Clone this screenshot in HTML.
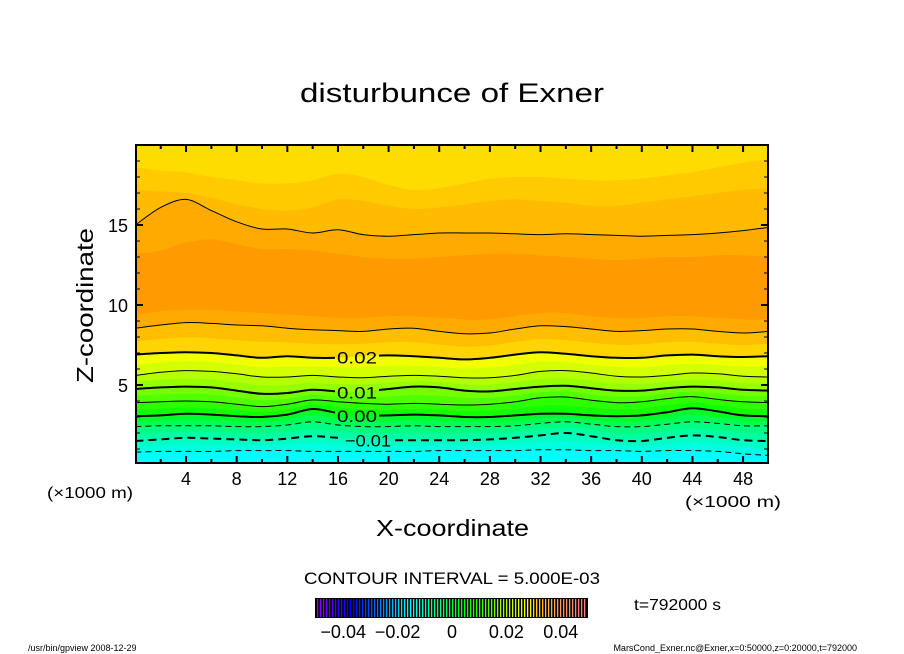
<!DOCTYPE html>
<html><head><meta charset="utf-8"><style>
html,body{margin:0;padding:0;background:#fff;}
svg{display:block;font-family:"Liberation Sans",sans-serif;}
</style></head><body>
<svg id="chart" width="904" height="654" viewBox="0 0 904 654">
<defs>
<clipPath id="plotclip"><rect x="136" y="145" width="632" height="318"/></clipPath>
<mask id="labelmask" maskUnits="userSpaceOnUse" x="0" y="0" width="904" height="654">
<rect x="0" y="0" width="904" height="654" fill="#fff"/>
<g id="maskholes"></g>
</mask>
</defs>
<text x="300" y="102" font-size="27" textLength="304" lengthAdjust="spacingAndGlyphs">disturbunce of Exner</text>
<g id="fills" clip-path="url(#plotclip)"></g>
<g id="lines" clip-path="url(#plotclip)" mask="url(#labelmask)"></g>
<g id="clabels"></g>
<rect x="136" y="145" width="632" height="318" fill="none" stroke="#000" stroke-width="2"/>
<g id="ticks"></g>
<text x="0" y="0" font-size="23" textLength="155" lengthAdjust="spacingAndGlyphs" transform="translate(93 383) rotate(-90)">Z-coordinate</text>
<text x="47" y="498" font-size="16" textLength="86" lengthAdjust="spacingAndGlyphs">(×1000 m)</text>
<text x="685" y="507" font-size="16" textLength="96" lengthAdjust="spacingAndGlyphs">(×1000 m)</text>
<text x="376" y="536" font-size="23" textLength="153" lengthAdjust="spacingAndGlyphs">X-coordinate</text>
<text x="304" y="584" font-size="17" textLength="296" lengthAdjust="spacingAndGlyphs">CONTOUR INTERVAL = 5.000E-03</text>
<g id="cbar"></g>
<text x="634" y="610" font-size="16" textLength="87" lengthAdjust="spacingAndGlyphs">t=792000 s</text>
<text x="28" y="651" font-size="9">/usr/bin/gpview   2008-12-29</text>
<text x="857" y="651" font-size="9" text-anchor="end">MarsCond_Exner.nc@Exner,x=0:50000,z=0:20000,t=792000</text>
</svg>
<script>
const xs=[0,2,4,6,8,10,12,14,16,18,20,22,24,26,28,30,32,34,36,38,40,42,44,46,48,50];
const U1=[18.6,18.4,18.3,18.0,17.8,17.6,17.6,17.8,18.2,18.0,17.5,17.2,17.3,17.6,17.9,18.0,18.0,17.9,17.8,17.8,17.9,18.1,18.3,18.6,18.9,19.1];
const U2=[17.2,17.1,17.0,16.7,16.3,16.0,15.9,16.1,16.6,16.5,16.2,16.0,16.1,16.3,16.5,16.6,16.5,16.4,16.2,16.2,16.4,16.6,16.8,17.0,17.2,17.3];
const L025u=[15.0,16.1,16.6,15.9,15.2,14.75,14.75,14.5,14.7,14.4,14.3,14.4,14.5,14.5,14.5,14.45,14.4,14.45,14.4,14.35,14.3,14.35,14.4,14.5,14.65,14.85];
const coreTop=[13.2,13.4,13.9,14.1,13.8,13.5,13.5,13.4,13.2,13.0,12.9,12.9,13.0,13.1,13.2,13.2,13.1,13.0,12.9,12.8,12.9,13.0,13.0,13.1,13.1,13.0];
const coreBot=[9.4,9.6,9.7,9.7,9.6,9.5,9.4,9.3,9.2,9.2,9.3,9.3,9.2,9.1,9.1,9.3,9.5,9.5,9.3,9.2,9.2,9.3,9.3,9.2,9.1,9.1];
const L025l=[8.55,8.75,8.9,8.85,8.75,8.7,8.55,8.45,8.4,8.35,8.5,8.55,8.35,8.2,8.25,8.5,8.7,8.65,8.5,8.35,8.4,8.5,8.5,8.35,8.25,8.35];
const L020=[6.9,7.0,7.05,7.0,6.85,6.7,6.8,6.7,6.7,6.8,6.85,6.8,6.7,6.6,6.7,6.9,7.05,6.95,6.8,6.7,6.7,6.85,6.9,6.8,6.75,6.8];
const L015=[5.6,5.8,5.9,5.85,5.7,5.5,5.5,5.6,5.5,5.45,5.55,5.6,5.55,5.45,5.45,5.6,5.85,5.9,5.75,5.55,5.5,5.6,5.75,5.7,5.55,5.5];
const L010=[4.75,4.85,4.9,4.85,4.65,4.45,4.5,4.7,4.6,4.6,4.75,4.9,4.85,4.65,4.6,4.75,4.9,4.95,4.8,4.65,4.65,4.8,4.9,4.85,4.7,4.65];
const L005=[3.9,3.95,4.0,3.95,3.8,3.65,3.8,4.07,3.95,3.85,3.8,3.85,3.8,3.75,3.8,3.95,4.2,4.25,4.05,3.9,3.95,4.15,4.27,4.1,3.95,3.9];
const L000=[3.05,3.1,3.2,3.15,3.05,3.0,3.15,3.5,3.25,3.1,3.1,3.15,3.1,3.0,3.0,3.1,3.2,3.2,3.1,3.05,3.1,3.3,3.55,3.35,3.1,3.05];
const Lm005=[2.4,2.45,2.45,2.45,2.4,2.4,2.5,2.7,2.5,2.4,2.4,2.45,2.4,2.4,2.4,2.45,2.6,2.7,2.55,2.4,2.4,2.55,2.7,2.6,2.45,2.45];
const Lm010=[1.5,1.6,1.7,1.65,1.6,1.55,1.65,1.8,1.7,1.6,1.55,1.55,1.55,1.55,1.6,1.7,1.85,2.0,1.8,1.55,1.5,1.7,1.85,1.75,1.55,1.5];
const Lm015=[0.8,0.85,0.85,0.85,0.9,0.9,0.9,0.85,0.85,0.85,0.85,0.85,0.9,0.9,0.9,0.9,0.95,0.95,0.9,0.9,0.85,0.9,0.9,0.85,0.7,0.6];
const xTicks=[4,8,12,16,20,24,28,32,36,40,44,48];
const yTicks=[5,10,15];
const cbarTicks=[-0.04,-0.02,0,0.02,0.04];
const cbarTickLabels=["−0.04","−0.02","0","0.02","0.04"];

const NS="http://www.w3.org/2000/svg";
const X0=135.4,XS=12.66,Z0=465,ZS=16;
const px=x=>X0+XS*x, pz=z=>Z0-ZS*z;
function mk(tag,attrs,parent){const e=document.createElementNS(NS,tag);for(const k in attrs)e.setAttribute(k,attrs[k]);parent.appendChild(e);return e;}
function mid(a,b){return a.map((v,i)=>(v+b[i])/2);}
function curve(arr){
  const p=xs.map((x,i)=>[px(x),pz(arr[i])]);
  let d="M"+p[0][0].toFixed(1)+","+p[0][1].toFixed(1);
  for(let i=0;i<p.length-1;i++){
    const a=p[Math.max(i-1,0)],b=p[i],c=p[i+1],e=p[Math.min(i+2,p.length-1)];
    const c1=[b[0]+(c[0]-a[0])/6,b[1]+(c[1]-a[1])/6],c2=[c[0]-(e[0]-b[0])/6,c[1]-(e[1]-b[1])/6];
    d+=" C"+c1.map(v=>v.toFixed(1))+" "+c2.map(v=>v.toFixed(1))+" "+c[0].toFixed(1)+","+c[1].toFixed(1);
  }
  return d;
}
const fills=document.getElementById('fills');
const bg=mk('rect',{x:130,y:140,width:645,height:330,fill:'#FFDC00'},fills);


const bounds=[
 [U1,'#FFCB00'],[U2,'#FFBB00'],[L025u,'#FFAA00'],[coreTop,'#FF9A00'],[coreBot,'#FFAA00'],
 [L025l,'#FFBE00'],[mid(L025l,L020),'#FFD400'],[L020,'#F2FF00'],[mid(L020,L015),'#D4FF00'],
 [L015,'#B4FF00'],[mid(L015,L010),'#96FF00'],[L010,'#74FF00'],[mid(L010,L005),'#50FF00'],
 [L005,'#2EFF00'],[mid(L005,L000),'#10FF00'],[L000,'#00FF28'],[mid(L000,Lm005),'#00FF55'],
 [Lm005,'#00FF80'],[mid(Lm005,Lm010),'#00FFA4'],[Lm010,'#00FFC4'],[mid(Lm010,Lm015),'#00FFE0'],[Lm015,'#00FFFA']
];
bounds.forEach((b,i)=>{
  const p=mk('path',{d:curve(b[0])+" L"+(px(50)+10)+","+pz(b[0][25])+" L"+(px(50)+10)+",480 L"+(px(0)-10)+",480 L"+(px(0)-10)+","+pz(b[0][0])+" Z",fill:b[1]},fills);
  
  
});
const lines=document.getElementById('lines');
const lineDefs=[[L025u,1,null],[L025l,1,null],[L020,2,null],[L015,1,null],[L010,2,null],[L005,1,null],[L000,2,null],[Lm005,1,'6,4'],[Lm010,2,'8,5'],[Lm015,1,'6,4']];
lineDefs.forEach((l,i)=>{
  const a={d:curve(l[0]),fill:'none',stroke:'#000','stroke-width':l[1]};
  if(l[2])a['stroke-dasharray']=l[2];
  const p=mk('path',a,lines);
  
  
});
const labs=[[L020,"0.02",357,40],[L010,"0.01",357,40],[L000,"0.00",357,40],[Lm010,"−0.01",368,46]];
const holes=document.getElementById('maskholes'),cl=document.getElementById('clabels');
labs.forEach((l,i)=>{
  const xv=(l[2]-X0)/XS, k=Math.min(Math.floor(xv/2),24), t=(xv-xs[k])/2;
  const zv=l[0][k]*(1-t)+l[0][k+1]*t, y=pz(zv);
  mk('rect',{x:l[2]-l[3]/2-2,y:y-8,width:l[3]+4,height:16,fill:'#000'},holes);
  const tx=mk('text',{x:l[2]-l[3]/2,y:y+7,'font-size':17,textLength:l[3],lengthAdjust:'spacingAndGlyphs'},cl);
  tx.textContent=l[1];
  
  
});
const tk=document.getElementById('ticks');
for(let x=2;x<50;x+=2){
  const L=(x%4===0)?7:4;
  mk('line',{x1:px(x),x2:px(x),y1:145,y2:145+L,stroke:'#000','stroke-width':2},tk);
  mk('line',{x1:px(x),x2:px(x),y1:463,y2:463-L,stroke:'#000','stroke-width':2},tk);
}
for(let z=1;z<20;z++){
  const L=(z%5===0)?7:4;
  mk('line',{x1:136,x2:136+L,y1:pz(z),y2:pz(z),stroke:'#000','stroke-width':(z%5===0)?2:1},tk);
  mk('line',{x1:768,x2:768-L,y1:pz(z),y2:pz(z),stroke:'#000','stroke-width':(z%5===0)?2:1},tk);
}
xTicks.forEach(x=>{
  const t=mk('text',{x:px(x),y:485,'font-size':18,'text-anchor':'middle'},tk);
  t.textContent=x;
  
  
});
yTicks.forEach(z=>{
  const t=mk('text',{x:128,y:pz(z)+7,'font-size':18,'text-anchor':'end'},tk);
  t.textContent=z;
  
  
});
const cb=document.getElementById('cbar');
mk('rect',{x:315,y:598,width:273,height:20,fill:'#000'},cb);
const n=90;
for(let i=0;i<n;i++){
  const f=i/(n-1);
  const h=275-f*275;
  const light=f>0.85?60+(f-0.85)*100:50;
  const l=mk('rect',{x:317+i*3,y:599,width:1.3,height:18,fill:`hsl(${h},100%,${light}%)`},cb);
  
  
}
const cpx=v=>452+v*2720;
cbarTicks.forEach((v,i)=>{
  const t=mk('text',{x:cpx(v),y:638,'font-size':18,'text-anchor':'middle'},cb);
  t.textContent=cbarTickLabels[i];
  
  
});
</script>
</body></html>
